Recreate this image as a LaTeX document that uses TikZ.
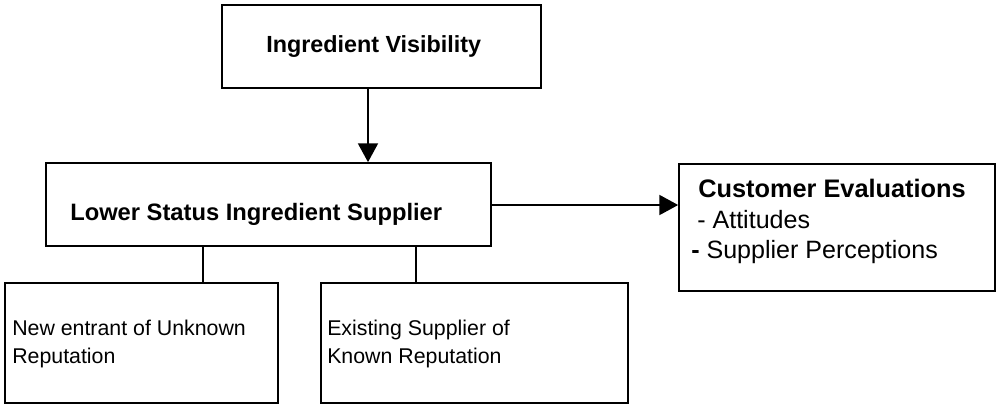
\documentclass[tikz,border=0pt]{standalone}
\usepackage{fontspec}
\setmainfont{Liberation Sans}
\usetikzlibrary{arrows.meta,fit}

\begin{document}
\begin{tikzpicture}[x=0.75pt,y=-0.75pt,
  box/.style={draw,line width=1.3pt,inner sep=0pt},
  bold/.style={inner sep=0pt,anchor=base west,font=\fontsize{17.8}{21}\selectfont\bfseries},
  plain/.style={inner sep=0pt,anchor=base west,font=\fontsize{16}{21}\selectfont},
  bigbold/.style={bold,font=\fontsize{19}{21}\selectfont\bfseries},
  bigplain/.style={plain,font=\fontsize{18.8}{21}\selectfont},
  link/.style={line width=1pt},
  arr/.style={line width=1pt,-{Triangle[length=14pt,width=15pt]}}]
\useasboundingbox (0,0) rectangle (996,404);
% boxes
\node[box,fit={(222,5) (541,88)}] (vis) {};
\node[box,fit={(46,163) (491,246)}] (low) {};
\node[box,fit={(679,164) (995,291)}] (cust) {};
\node[box,fit={(5,283) (278,403)}] (newe) {};
\node[box,fit={(321,283) (628,403)}] (exis) {};
% texts
\node[bold,font=\fontsize{17.5}{21}\selectfont\bfseries] (vist) at (266,52) {Ingredient Visibility};
\node[bold] (lowt) at (70,220) {Lower Status Ingredient Supplier};
\node[bigbold] (custt) at (698,197) {Customer Evaluations};
\node[bigplain] (att) at (697,228) {- Attitudes};
\node[bigplain] (perc) at (691,258) {\textbf{-} Supplier Perceptions};
\node[plain] (newa) at (12,335) {New entrant of Unknown};
\node[plain] (newb) at (12,363) {Reputation};
\node[plain] (exa) at (327,335) {Existing Supplier of};
\node[plain] (exb) at (327,363) {Known Reputation};
% connectors
\draw[arr] (vis.south -| 368,0) -- (low.north -| 368,0);
\draw[arr] (low.east |- 0,205) -- (cust.west |- 0,205);
\draw[link] (low.south -| 203,0) -- (newe.north -| 203,0);
\draw[link] (low.south -| 416,0) -- (exis.north -| 416,0);
\end{tikzpicture}
\end{document}
